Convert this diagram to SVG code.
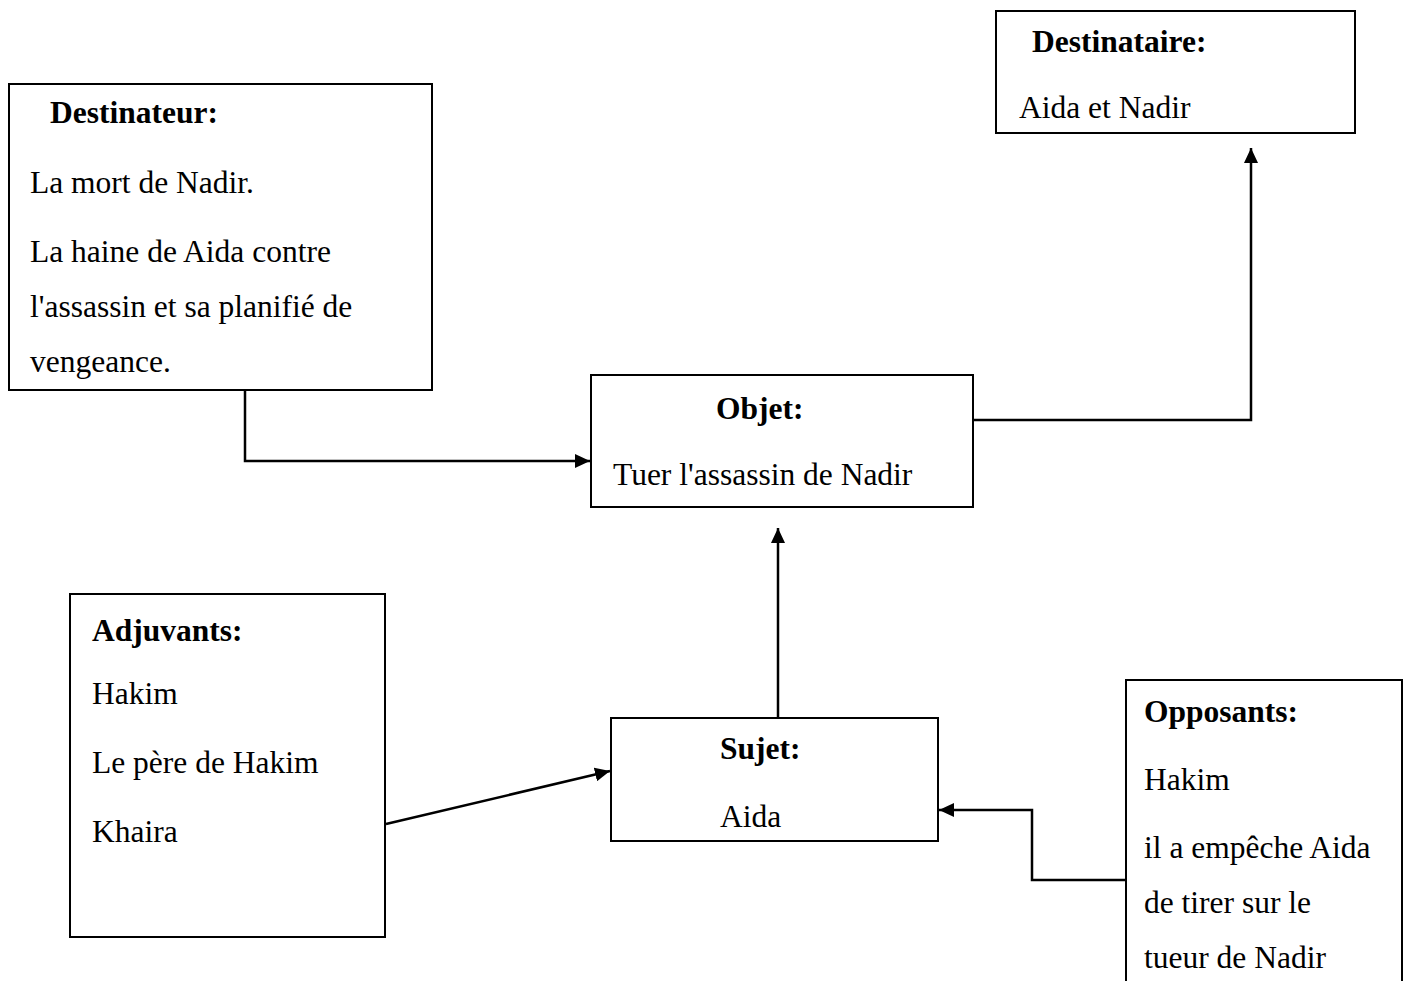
<svg xmlns="http://www.w3.org/2000/svg" width="1410" height="981" viewBox="0 0 1410 981">
<style>
.box{fill:#fff;stroke:#000;stroke-width:2}
.t{font-family:"Liberation Serif","Times New Roman",serif;font-size:31.5px;fill:#000}
.b{font-weight:bold}
.c{fill:none;stroke:#000;stroke-width:2.5}
</style>
<defs>
<marker id="ah" markerWidth="16" markerHeight="14" refX="15" refY="7" orient="auto" markerUnits="userSpaceOnUse" viewBox="0 0 16 14">
<path d="M0,0 L15,7 L0,14 Z" fill="#000"/>
</marker>
</defs>
<rect width="1410" height="981" fill="#fff"/>
<g id="connectors">
<polyline class="c" points="245,390 245,461 590,461" marker-end="url(#ah)"/>
<polyline class="c" points="973,420 1251,420 1251,148" marker-end="url(#ah)"/>
<polyline class="c" points="778,718 778,528" marker-end="url(#ah)"/>
<polyline class="c" points="386,824 610,771" marker-end="url(#ah)"/>
<polyline class="c" points="1126,880 1032,880 1032,810 939,810" marker-end="url(#ah)"/>
</g>
<g id="destinateur">
<rect class="box" x="9" y="84" width="423" height="306"/>
<text class="t b" x="50" y="123">Destinateur:</text>
<text class="t" x="30" y="193">La mort de Nadir.</text>
<text class="t" x="30" y="262">La haine de Aida contre</text>
<text class="t" x="30" y="317">l'assassin et sa planifié de</text>
<text class="t" x="30" y="372">vengeance.</text>
</g>
<g id="destinataire">
<rect class="box" x="996" y="11" width="359" height="122"/>
<text class="t b" x="1032" y="52">Destinataire:</text>
<text class="t" x="1019" y="118">Aida et Nadir</text>
</g>
<g id="objet">
<rect class="box" x="591" y="375" width="382" height="132"/>
<text class="t b" x="716" y="419">Objet:</text>
<text class="t" x="613" y="485">Tuer l'assassin de Nadir</text>
</g>
<g id="adjuvants">
<rect class="box" x="70" y="594" width="315" height="343"/>
<text class="t b" x="92" y="641">Adjuvants:</text>
<text class="t" x="92" y="704">Hakim</text>
<text class="t" x="92" y="773">Le père de Hakim</text>
<text class="t" x="92" y="842">Khaira</text>
</g>
<g id="sujet">
<rect class="box" x="611" y="718" width="327" height="123"/>
<text class="t b" x="720" y="759">Sujet:</text>
<text class="t" x="720" y="827">Aida</text>
</g>
<g id="opposants">
<rect class="box" x="1126" y="680" width="276" height="310"/>
<text class="t b" x="1144" y="722">Opposants:</text>
<text class="t" x="1144" y="790">Hakim</text>
<text class="t" x="1144" y="858">il a empêche Aida</text>
<text class="t" x="1144" y="913">de tirer sur le</text>
<text class="t" x="1144" y="968">tueur de Nadir</text>
</g>
</svg>
